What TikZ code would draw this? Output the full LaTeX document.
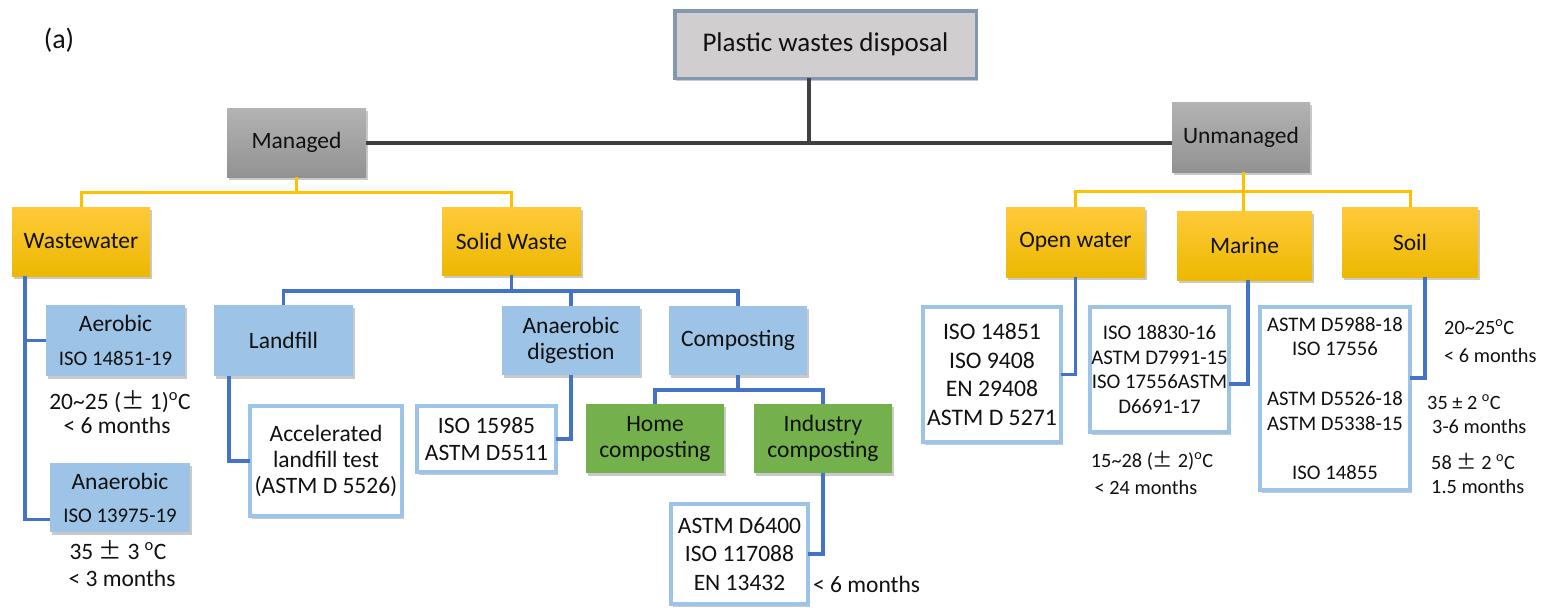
\documentclass[tikz,border=0pt]{standalone}
\usepackage{fontspec}
\setmainfont{Carlito}
\newfontfamily\cjk{Noto Sans CJK SC}
\usetikzlibrary{shadows}
\definecolor{rootfill}{HTML}{D0CECE}
\definecolor{rootline}{HTML}{8497B0}
\definecolor{greytop}{HTML}{B3B3B3}
\definecolor{greybot}{HTML}{929292}
\definecolor{goldtop}{HTML}{FFCA3A}
\definecolor{goldbot}{HTML}{ECB800}
\definecolor{goldline}{HTML}{FFC000}
\definecolor{lightblue}{HTML}{9DC3E6}
\definecolor{darkblue}{HTML}{4472C4}
\definecolor{leaf}{HTML}{74B04C}
\definecolor{darkline}{HTML}{404040}
\definecolor{txt}{HTML}{111111}
\tikzset{
  shadowed/.style={drop shadow={shadow xshift=1.5pt, shadow yshift=-2.5pt, opacity=.35, fill=black!60}},
  sz/.style 2 args={minimum width=#1pt, minimum height=#2pt},
  basebox/.style={inner sep=0pt, outer sep=0pt, align=center, text=txt, shadowed},
  rootbox/.style={basebox, draw=rootline, line width=3.5pt, fill=rootfill, font=\fontsize{27}{30}\selectfont},
  greybox/.style={basebox, top color=greytop, bottom color=greybot, font=\fontsize{23.5}{26}\selectfont},
  goldbox/.style={basebox, top color=goldtop, bottom color=goldbot, font=\fontsize{23.5}{26}\selectfont},
  bluebox/.style={basebox, fill=lightblue, font=\fontsize{23.5}{26}\selectfont},
  greenbox/.style={basebox, fill=leaf, font=\fontsize{23.5}{26}\selectfont},
  stdbox/.style={basebox, draw=lightblue, line width=4pt, fill=white, font=\fontsize{23.5}{26}\selectfont},
  darkconn/.style={draw=darkline, line width=3.5pt},
  goldconn/.style={draw=goldline, line width=3pt},
  blueconn/.style={draw=darkblue, line width=3.5pt},
  notebig/.style={inner sep=0pt, text=txt, font=\fontsize{23.5}{26}\selectfont, text height=15pt, text depth=0pt},
  notesmall/.style={inner sep=0pt, text=txt, font=\fontsize{20.3}{24}\selectfont, text height=13pt, text depth=0pt, anchor=west}
}
\newcommand{\cpm}{{\cjk ±}}
\newcommand{\degc}{\textsuperscript{o}C}
\begin{document}
\begin{tikzpicture}[x=1pt,y=-1pt]
\useasboundingbox (0,0) rectangle (1543,608);
\fill[white] (0,0) rectangle (1543,608);

\node[inner sep=0pt, text=txt, font=\fontsize{28}{30}\selectfont] (label) at (59,40) {(a)};

% top level
\node[rootbox, sz={301.5}{67.5}] (root) at (825.5,44.5) {Plastic wastes disposal};
\node[greybox, sz={139}{69}] (managed) at (296.5,142.5) {Managed};
\node[greybox, sz={138}{70}] (unmanaged) at (1241,137) {Unmanaged};

% second level
\node[goldbox, sz={138}{69}] (wastewater) at (81,241.5) {Wastewater};
\node[goldbox, sz={139}{68}] (solid) at (511.5,241) {Solid Waste};
\node[goldbox, sz={139}{70}] (openwater) at (1075.5,242) {Open water};
\node[goldbox, sz={135}{69}] (marine) at (1244.5,245.5) {Marine};
\node[goldbox, sz={136}{70}] (soil) at (1410,242) {Soil};

% third level
\node[bluebox, sz={139}{71}, font=\fontsize{23.5}{34}\selectfont] (aerobic) at (115.5,340.5) {Aerobic\\{\fontsize{20.8}{34}\selectfont ISO 14851-19}};
\node[bluebox, sz={140}{69}, font=\fontsize{23.5}{33}\selectfont] (anaerobic) at (120,497.5) {Anaerobic\\{\fontsize{20.8}{33}\selectfont ISO 13975-19}};
\node[bluebox, sz={139}{71}] (landfill) at (283.5,340.5) {Landfill};
\node[bluebox, sz={138}{69}] (andig) at (571,340.5) {Anaerobic\\digestion};
\node[bluebox, sz={138}{69}] (composting) at (738,340.5) {Composting};
\node[greenbox, sz={138}{69}] (home) at (655,438.5) {Home\\composting};
\node[greenbox, sz={138}{69}] (industry) at (823,438.5) {Industry\\composting};

% standard boxes
\node[stdbox, sz={152}{110}] (accel) at (326,461) {Accelerated\\landfill test\\(ASTM D 5526)};
\node[stdbox, sz={139}{66}, font=\fontsize{23.5}{27}\selectfont] (iso15985) at (486.5,439) {ISO 15985\\ASTM D5511};
\node[stdbox, sz={137}{100}, font=\fontsize{23.5}{28.5}\selectfont] (astm6400) at (739.5,554) {ASTM D6400\\ISO 117088\\EN 13432};
\node[stdbox, sz={138}{135}, font=\fontsize{23.7}{28.7}\selectfont] (iso14851) at (992,374.5) {ISO 14851\\ISO 9408\\EN 29408\\ASTM D 5271};
\node[stdbox, sz={139}{125}, font=\fontsize{20.8}{24.7}\selectfont] (mbox) at (1159.5,369.5) {ISO 18830-16\\ASTM D7991-15\\ISO 17556ASTM\\D6691-17};
\node[stdbox, sz={150}{183}, font=\fontsize{20.7}{24.8}\selectfont] (sbox) at (1335,398.5) {ASTM D5988-18\\ISO 17556\\[24.8pt]ASTM D5526-18\\ASTM D5338-15\\[24.8pt]ISO 14855};

% annotations
\node[notebig] (n1) at (120,402) {20\textasciitilde25 (\cpm\ 1)\degc};
\node[notebig] (n2) at (117,426) {< 6 months};
\node[notebig] (n3) at (118,552) {35 \cpm\ 3 \degc};
\node[notebig] (n4) at (122,579) {< 3 months};
\node[notebig, anchor=west] (n5) at (813,585) {< 6 months};
\node[notesmall, anchor=center] (n6) at (1152,461) {15\textasciitilde28 (\cpm\ 2)\degc};
\node[notesmall, anchor=center] (n7) at (1146,488) {< 24 months};
\node[notesmall] (r1) at (1444,328) {20\textasciitilde25\degc};
\node[notesmall] (r2) at (1444,356) {< 6 months};
\node[notesmall] (r3) at (1427,403) {35 ± 2 \degc};
\node[notesmall] (r4) at (1432,427) {3-6 months};
\node[notesmall] (r5) at (1431,463) {58 \cpm\ 2 \degc};
\node[notesmall] (r6) at (1431,487) {1.5 months};

% junction coordinates
\coordinate (j0) at (809,143);
\coordinate (ym) at (296.5,192);
\coordinate (yu) at (1243,191);
\coordinate (bwx) at (25,0);
\coordinate (bs) at (511.5,291);
\coordinate (lfx) at (229,0);
\coordinate (bc) at (738,390);
\coordinate (mj) at (1248,384);
\coordinate (sj) at (1425,378);

% dark connectors
\draw[darkconn] (root.south -| j0) -- (j0);
\draw[darkconn] (managed.east |- j0) -- (unmanaged.west |- j0);

% gold connectors
\draw[goldconn] (managed.south -| ym) -- (ym);
\draw[goldconn] (wastewater.north) |- (ym) -| (solid.north);
\draw[goldconn] (unmanaged.south -| yu) -- (marine.north -| yu);
\draw[goldconn] (openwater.north) |- (yu) -| (soil.north);

% blue connectors
\draw[blueconn] (wastewater.south -| bwx) |- (aerobic.west);
\draw[blueconn] (wastewater.south -| bwx) |- ([yshift=-22pt]anaerobic.west);
\draw[blueconn] (solid.south) -- (bs);
\draw[blueconn] (landfill.north) |- (bs) -| (composting.north);
\draw[blueconn] (andig.north) -- (andig.north |- bs);
\draw[blueconn] (landfill.south -| lfx) |- (accel.west);
\draw[blueconn] (andig.south) |- (iso15985.east);
\draw[blueconn] (composting.south) -- (bc);
\draw[blueconn] (home.north) |- (bc) -| (industry.north);
\draw[blueconn] (industry.south) |- (astm6400.east);
\draw[blueconn] (openwater.south) |- (iso14851.east);
\draw[blueconn] (marine.south -| mj) |- (mbox.east |- mj);
\draw[blueconn] (soil.south -| sj) |- (sbox.east |- sj);
\end{tikzpicture}
\end{document}
